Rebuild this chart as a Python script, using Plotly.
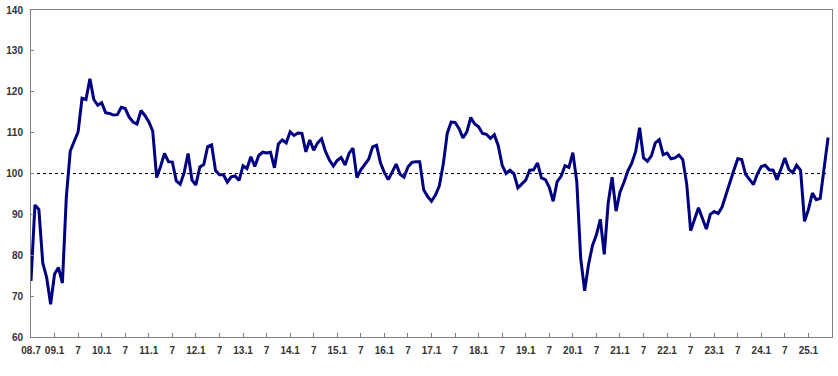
import plotly.graph_objects as go

# Monthly index, 2008.7 .. 2025.6
values = [
    73.7, 92.3, 91.2, 78.1, 74.5, 68.0, 75.4, 77.0, 73.2, 94.3, 105.5, 107.7,
    110.2, 118.4, 118.1, 123.2, 118.1, 116.7, 117.3, 114.9, 114.7, 114.3, 114.4, 116.2,
    115.9, 113.8, 112.6, 112.1, 115.4, 114.2, 112.7, 110.4, 99.0, 101.7, 104.9, 102.9,
    102.8, 98.2, 97.4, 100.2, 104.9, 98.4, 97.2, 101.6, 102.2, 106.6, 107.0, 100.7,
    99.7, 99.7, 97.9, 99.2, 99.4, 98.3, 101.9, 101.2, 104.1, 101.7, 104.4, 105.2,
    105.0, 105.2, 101.4, 107.2, 108.2, 107.5, 110.2, 109.3, 109.9, 109.8, 105.3, 108.2,
    105.7, 107.5, 108.5, 105.4, 103.3, 101.8, 103.2, 103.9, 102.1, 104.9, 106.2, 99.0,
    100.9, 102.2, 103.5, 106.5, 106.9, 102.6, 100.2, 98.5, 100.5, 102.3, 99.8, 99.1,
    101.6, 102.7, 102.9, 102.9, 96.0, 94.4, 93.2, 94.7, 97.0, 102.3, 109.8, 112.6,
    112.5, 111.0, 108.7, 110.2, 113.7, 112.1, 111.4, 109.8, 109.6, 108.6, 109.5, 106.8,
    102.0, 100.0, 100.8, 99.9, 96.5, 97.5, 98.4, 100.8, 100.9, 102.6, 98.9, 98.5,
    96.6, 93.2, 98.0, 99.3, 101.9, 101.5, 105.1, 98.0, 79.2, 71.3, 77.8, 82.4,
    85.0, 88.8, 80.2, 92.8, 99.1, 90.8, 95.4, 97.8, 100.6, 102.5, 105.4, 111.2,
    103.8, 103.0, 104.3, 107.5, 108.3, 104.6, 105.0, 103.6, 103.8, 104.5, 103.4, 97.4,
    86.0, 88.8, 91.6, 89.0, 86.4, 90.0, 90.7, 90.2, 91.8, 94.8, 98.0, 100.8,
    103.6, 103.4, 99.8, 98.4, 97.3, 99.9, 101.7, 102.0, 100.9, 100.8, 98.5, 101.1,
    103.8, 101.0, 100.2, 102.0, 100.8, 88.3, 91.2, 95.2, 93.6, 93.9, 101.7, 108.8,
]
baseline_value = 100

tick_labels = [
    "08.7", "09.1", "7", "10.1", "7", "11.1", "7", "12.1", "7", "13.1", "7",
    "14.1", "7", "15.1", "7", "16.1", "7", "17.1", "7", "18.1", "7", "19.1", "7",
    "20.1", "7", "21.1", "7", "22.1", "7", "23.1", "7", "24.1", "7", "25.1",
]
y_ticks = [60, 70, 80, 90, 100, 110, 120, 130, 140]

x = list(range(len(values)))
tick_positions = [6 * k for k in range(len(tick_labels))]

fig = go.Figure()
fig.add_trace(go.Scatter(
    x=x, y=[baseline_value] * len(values), mode="lines",
    line=dict(color="#000000", width=1, dash="dot"), hoverinfo="skip",
))
fig.add_trace(go.Scatter(
    x=x, y=values, mode="lines",
    line=dict(color="#000080", width=3),
))

font = dict(family="Liberation Sans, Arial, sans-serif", size=10, color="#333333")

fig.update_layout(
    width=838, height=376,
    margin=dict(l=31, r=6, t=10, b=39),
    paper_bgcolor="white", plot_bgcolor="white",
    showlegend=False,
    font=font,
)
fig.update_xaxes(
    range=[0, 204], automargin=False,
    tickmode="array", tickvals=tick_positions,
    ticktext=["<b>%s</b>" % t for t in tick_labels],
    ticks="inside", ticklen=4, tickcolor="#808080", tickwidth=1,
    showline=True, linecolor="#808080", linewidth=1, mirror=True,
    showgrid=False, zeroline=False,
    ticklabelstandoff=4,
)
fig.update_yaxes(
    range=[60, 140], automargin=False,
    tickmode="array", tickvals=y_ticks,
    ticktext=["<b>%d</b>" % v for v in y_ticks],
    ticks="inside", ticklen=3, tickcolor="#808080", tickwidth=1,
    showline=True, linecolor="#808080", linewidth=1, mirror=True,
    showgrid=False, zeroline=False,
    ticklabelstandoff=5,
)

fig.write_html(
    "out.html",
    config={"displayModeBar": False},
    post_script="document.body.style.margin='0';document.body.style.overflow='hidden';",
)
